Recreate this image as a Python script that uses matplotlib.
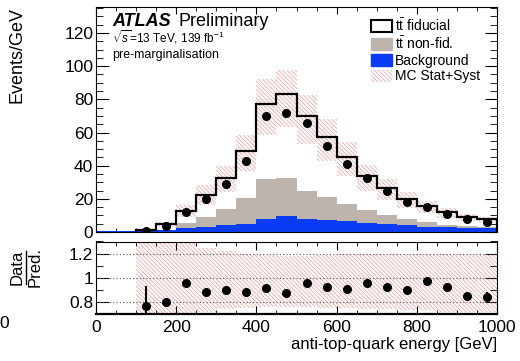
import numpy as np
import matplotlib
matplotlib.use("Agg")
import matplotlib.pyplot as plt
from matplotlib.patches import Patch
from matplotlib.lines import Line2D
from matplotlib.ticker import MultipleLocator

plt.rcParams['font.family'] = ['Liberation Sans', 'DejaVu Sans']
plt.rcParams['mathtext.fontset'] = 'custom'
plt.rcParams['mathtext.rm'] = 'Liberation Sans'
plt.rcParams['mathtext.it'] = 'Liberation Sans:italic'
plt.rcParams['hatch.linewidth'] = 0.6

# bins of anti-top-quark energy [GeV]
bin_edges = [100, 150, 200, 250, 300, 350, 400, 450, 500, 550,
             600, 650, 700, 750, 800, 850, 900, 950, 1000]

# stacked predictions, Events/GeV
background = [0.4, 1.0, 2.2, 3.0, 4.0, 5.0, 8.0, 9.8, 8.0, 7.5,
              6.5, 5.5, 4.7, 4.0, 3.3, 3.0, 2.5, 2.3]
ttbar_nonfid = [0.2, 0.5, 3.3, 6.0, 10.0, 15.5, 23.8, 22.5, 16.8, 13.5,
                10.5, 7.5, 5.3, 4.0, 2.7, 1.5, 1.0, 0.7]
ttbar_fid = [0.4, 3.1, 7.0, 13.6, 18.6, 28.4, 45.5, 50.7, 45.2, 36.4,
             28.3, 20.6, 16.4, 12.2, 9.5, 7.4, 5.6, 4.7]
# relative MC stat+syst uncertainty (up / down)
mc_unc_up = [0.45, 0.35, 0.3, 0.25, 0.22, 0.2, 0.19, 0.18, 0.18, 0.19,
             0.2, 0.2, 0.2, 0.2, 0.2, 0.2, 0.2, 0.2]
mc_unc_down = [0.45, 0.35, 0.3, 0.28, 0.26, 0.25, 0.24, 0.24, 0.24, 0.25,
               0.25, 0.26, 0.26, 0.27, 0.27, 0.28, 0.28, 0.28]

data = [0.5, 3.9, 12.0, 19.7, 29.2, 42.7, 69.9, 71.5, 65.5, 52.0,
        40.9, 32.6, 24.6, 18.1, 15.1, 11.1, 7.9, 6.0]
ratio = [0.77, 0.80, 0.96, 0.88, 0.90, 0.88, 0.915, 0.87, 0.955, 0.92,
         0.91, 0.96, 0.92, 0.90, 0.97, 0.92, 0.85, 0.84]
ratio_err = [0.16, 0.03, 0.025, 0.015, 0.015, 0.012, 0.01, 0.01, 0.012, 0.015,
             0.015, 0.018, 0.02, 0.025, 0.03, 0.035, 0.035, 0.04]

edges = np.array(bin_edges, dtype=float)
centers = 0.5 * (edges[:-1] + edges[1:])
widths = np.diff(edges)
bkg = np.array(background)
nonfid_top = bkg + np.array(ttbar_nonfid)
total = nonfid_top + np.array(ttbar_fid)
up = np.array(mc_unc_up)
dn = np.array(mc_unc_down)

W, H = 520, 361
fig = plt.figure(figsize=(W / 100, H / 100), dpi=100)
ax = fig.add_axes([96 / W, 1 - 232 / H, 401 / W, 225 / H])
ax2 = fig.add_axes([96 / W, 1 - 314 / H, 401 / W, 72.5 / H])

grey = '#bdb5ad'
blue = '#0a3cf5'
pink = '#f0a8a8'
hatch = '\\' * 8

# main panel
ax.stairs(total, edges, baseline=nonfid_top, fill=True, color='white', zorder=1)
ax.stairs(nonfid_top, edges, baseline=bkg, fill=True, color=grey, lw=0, zorder=2)
ax.stairs(bkg, edges, baseline=0, fill=True, color=blue, lw=0, zorder=2)
ax.axhline(0, color=blue, lw=1.5, zorder=2)
ax.bar(edges[:-1], (up + dn) * total, width=widths, bottom=total * (1 - dn), align='edge',
       fill=False, hatch=hatch, edgecolor=pink, lw=0, zorder=3)
ax.stairs(total, edges, baseline=0, color='black', lw=1.6, zorder=4)
ax.plot(centers, data, 'o', color='black', ms=5.5, zorder=5)

ax.set_xlim(0, 1000)
ax.set_ylim(0, 135.7)
ax.xaxis.set_major_locator(MultipleLocator(200))
ax.xaxis.set_minor_locator(MultipleLocator(50))
ax.yaxis.set_major_locator(MultipleLocator(20))
ax.yaxis.set_minor_locator(MultipleLocator(5))
ax.tick_params(which='both', direction='in', top=True, right=True, labelsize=12.5, pad=2)
ax.tick_params(axis='y', which='major', length=9)
ax.tick_params(axis='y', which='minor', length=5)
ax.tick_params(axis='x', which='major', length=5)
ax.tick_params(axis='x', which='minor', length=3)
ax.tick_params(axis='x', labelbottom=False)

fig.text(17 / W, 1 - 7 / H, 'Events/GeV', rotation=90, ha='center', va='top', fontsize=13)

def axpos(px, py):
    return (px - 96) / 401, (232 - py) / 225

ax.text(*axpos(112, 26), 'ATLAS', fontsize=13, fontweight='bold', style='italic',
        ha='left', va='baseline', transform=ax.transAxes)
ax.text(*axpos(178, 26), 'Preliminary', fontsize=13, ha='left', va='baseline',
        transform=ax.transAxes)
ax.text(*axpos(112, 43), r'$\sqrt{s}$=13 TeV, 139 fb$^{-1}$', fontsize=8.5,
        ha='left', va='baseline', transform=ax.transAxes)
ax.text(*axpos(112, 55), 'pre-marginalisation', fontsize=9, ha='left', va='center',
        transform=ax.transAxes)

handles = [Patch(facecolor='white', edgecolor='black', lw=1.5),
           Patch(facecolor=grey, edgecolor=grey),
           Patch(facecolor=blue, edgecolor=blue),
           Patch(fill=False, hatch=hatch, edgecolor=pink, lw=0)]
labels = [r'$\mathrm{t\bar{t}}$ fiducial', r'$\mathrm{t\bar{t}}$ non-fid.',
          'Background', 'MC Stat+Syst']
ax.legend(handles, labels, loc='upper left', bbox_to_anchor=axpos(371, 17),
          frameon=False, fontsize=10, handlelength=1.5, handleheight=0.95,
          handletextpad=0.25, labelspacing=0.12, borderpad=0, borderaxespad=0)

# ratio panel
ax2.bar(edges[:-1], up + dn, width=widths, bottom=1 - dn, align='edge',
        fill=False, hatch=hatch, edgecolor=pink, lw=0, zorder=1)
for yv in [0.8, 1.0, 1.2]:
    ax2.axhline(yv, color='#555555', lw=0.8, ls=(0, (1, 2)), zorder=2)
ax2.errorbar(centers, ratio, yerr=ratio_err, fmt='o', color='black', ms=5.5,
             elinewidth=1.5, capsize=0, zorder=3)
ax2.set_xlim(0, 1000)
ax2.set_ylim(0.7, 1.3)
ax2.xaxis.set_major_locator(MultipleLocator(200))
ax2.xaxis.set_minor_locator(MultipleLocator(50))
ax2.yaxis.set_minor_locator(MultipleLocator(0.1))
ax2.set_yticks([0.8, 1.0, 1.2])
ax2.set_yticklabels(['0.8', '1', '1.2'])
ax2.tick_params(which='both', direction='in', top=True, right=True, labelsize=12.5, pad=2)
ax2.tick_params(axis='y', which='major', length=9)
ax2.tick_params(axis='y', which='minor', length=5)
ax2.tick_params(axis='x', which='major', length=6)
ax2.tick_params(axis='x', which='minor', length=3)
ax2.tick_params(axis='x', pad=4)
ax2.spines['bottom'].set_linewidth(1.6)
ax2.set_xlabel('anti-top-quark energy [GeV]', fontsize=12, loc='right', labelpad=2)

fig.text(17 / W, 1 - 267 / H, 'Data', rotation=90, ha='center', va='center', fontsize=12)
fig.text(35 / W, 1 - 267 / H, 'Pred.', rotation=90, ha='center', va='center', fontsize=12)
fig.add_artist(Line2D([26 / W, 26 / W], [1 - 251 / H, 1 - 284 / H], color='black', lw=1))
fig.text(4 / W, 1 - 324 / H, '0', ha='center', va='center', fontsize=12.5)

fig.savefig('out.png', dpi=100)
